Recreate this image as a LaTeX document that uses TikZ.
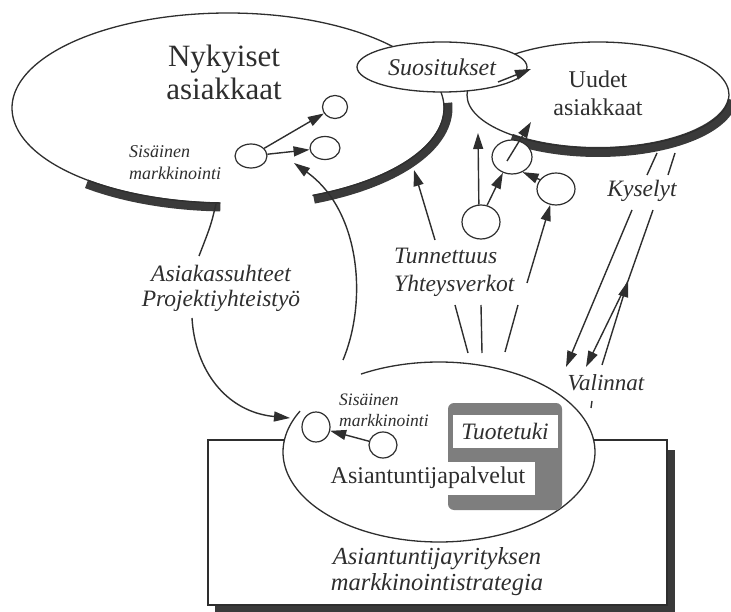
\documentclass[tikz,border=0pt]{standalone}
\usepackage{fontspec}
\setmainfont{Liberation Serif}
\usetikzlibrary{arrows.meta,shapes.geometric}
\definecolor{ink}{HTML}{2E2E2E}
\definecolor{shadowc}{HTML}{3A3A3A}
\definecolor{boxgray}{HTML}{7E7E7E}
\begin{document}
\begin{tikzpicture}[x=1pt,y=-1pt,
  ln/.style={draw=ink, line width=1.4pt},
  arr/.style={ln, -{Triangle[length=16pt,width=10pt]}},
  outl/.style={draw=ink, line width=1.3pt},
  shad/.style={draw=shadowc, line width=9pt},
  circ/.style={ellipse, draw=ink, line width=1.2pt, fill=white, inner sep=0pt},
  lbl/.style={text=ink, inner sep=0pt, align=center},
]
\useasboundingbox (0,0) rectangle (731,612);

% strategy box
\fill[shadowc] (215,450) rectangle (675,612);
\draw[outl, fill=white] (208,440) rectangle (667,605);

% lower ellipse (Asiantuntijapalvelut)
\fill[white] (439,452) ellipse [x radius=156pt, y radius=90pt];
\draw[outl] plot[domain=240:567, samples=160] ({439+156*cos(\x)},{452+90*sin(\x)});

% Tuotetuki frame
\fill[boxgray, rounded corners=6pt] (448,403) rectangle (562,510);
\fill[white] (453,415) rectangle (558,448);
\fill[white] (322,462) rectangle (535,495);
\node[lbl, font=\fontsize{23.5}{26}\selectfont\itshape] (tuote) at (505,431) {Tuotetuki};
\node[lbl, font=\fontsize{24}{26}\selectfont] (palv) at (428,478) {Asiantuntijapalvelut};
\node[lbl, font=\fontsize{24.5}{26}\selectfont\itshape] (strat) at (437,572) {Asiantuntijayrityksen\\markkinointistrategia};

% internal marketing in lower ellipse
\node[circ, minimum width=28pt, minimum height=30pt] (c4) at (316,427) {};
\node[circ, minimum width=28pt, minimum height=26pt] (c5) at (383,445) {};
\draw[arr] (c5) -- (c4);
\node[lbl, anchor=west, align=left, font=\fontsize{17.5}{21}\selectfont\itshape] (sis2) at (339,410) {Sisäinen\\markkinointi};

% current customers ellipse
\draw[shad] plot[domain=92:130, samples=30] ({228+220*cos(\x)},{108+99*sin(\x)});
\draw[shad] plot[domain=-3:67, samples=60] ({228+220*cos(\x)},{108+99*sin(\x)});
\draw[outl] plot[domain=92:427, samples=220] ({228+216*cos(\x)},{108+95*sin(\x)});
\node[lbl, font=\fontsize{31}{33}\selectfont] (nyk) at (224,72) {Nykyiset\\asiakkaat};
\node[circ, minimum width=25pt, minimum height=23pt] (c1) at (335,107) {};
\node[circ, minimum width=32pt, minimum height=24pt] (c2) at (251,156) {};
\node[circ, minimum width=30pt, minimum height=23pt] (c3) at (325,148) {};
\draw[arr] (c2) -- (c1);
\draw[arr] (c2) -- (c3);
\node[lbl, anchor=west, align=left, font=\fontsize{18}{22}\selectfont\itshape] (sis1) at (129,163) {Sisäinen\\markkinointi};

% new customers ellipse
\draw[shad, line width=10pt] plot[domain=5:130, samples=60] ({598+135*cos(\x)},{95+57*sin(\x)});
\draw[outl] (598,95) ellipse [x radius=131pt, y radius=53pt];
\node[lbl, font=\fontsize{24}{28}\selectfont] (uud) at (598,93) {Uudet\\asiakkaat};

% recommendations
\node[ellipse, draw=ink, line width=1.3pt, fill=white, inner sep=0pt, minimum width=170pt, minimum height=50pt, text=ink, font=\fontsize{24}{26}\selectfont\itshape] (suo) at (442,67) {Suositukset};
\coordinate (suoout) at (498,82);
\coordinate (uudin) at (531,69);
\draw[arr] (suoout) -- (uudin);

% customer relations loop
\coordinate (e1gap) at (216,204);
\coordinate (asiatop) at (199,256);
\coordinate (asiabot) at (192,318);
\coordinate (c4in) at (290,418);
\coordinate (e3top) at (343,360);
\coordinate (e1in) at (294,163);
\node[lbl, font=\fontsize{23.5}{25}\selectfont\itshape] (asia) at (221,288) {Asiakassuhteet\\Projektiyhteistyö};
\draw[ln] (e1gap) .. controls (211,225) .. (asiatop);
\draw[arr] (asiabot) .. controls (195,370) and (226,412) .. (c4in);
\draw[arr] (e3top) .. controls (368,300) and (360,210) .. (e1in);

% awareness / networks
\node[lbl, anchor=west, align=left, font=\fontsize{23.5}{28}\selectfont\itshape] (tunn) at (394,272) {Tunnettuus\\Yhteysverkot};
\node[circ, minimum width=38pt, minimum height=34pt] (c6) at (481,222) {};
\node[circ, minimum width=40pt, minimum height=34pt] (c7) at (512,157) {};
\node[circ, minimum width=38pt, minimum height=32pt] (c8) at (556,189) {};
\coordinate (t1) at (435,240);
\coordinate (t1e) at (414,170);
\coordinate (v1) at (478,133);
\coordinate (uudbot) at (531,122);
\coordinate (t3) at (527,283);
\draw[arr] (t1) -- (t1e);
\draw[arr] (c6.97) -- (v1);
\draw[arr] (c6.70) -- (c7.240);
\draw[arr] ([shift={(-5,4)}]c7.center) -- (uudbot);
\draw[arr] (c8.150) -- (c7.-55);
\draw[arr] (t3) -- (c8.250);
\coordinate (r1a) at (468,353); \coordinate (r1b) at (455,305);
\coordinate (r2a) at (482,353); \coordinate (r2b) at (481,305);
\coordinate (r3a) at (505,352); \coordinate (r3b) at (518,305);
\draw[ln] (r1a) -- (r1b);
\draw[ln] (r2a) -- (r2b);
\draw[ln] (r3a) -- (r3b);

% inquiries / choices
\node[lbl, font=\fontsize{23.5}{26}\selectfont\itshape] (kys) at (642,191) {Kyselyt};
\node[lbl, font=\fontsize{23}{26}\selectfont\itshape] (val) at (606,383) {Valinnat};
\coordinate (s1a) at (647,175); \coordinate (s1b) at (657,153);
\coordinate (s2a) at (668,175); \coordinate (s2b) at (675,153);
\draw[ln] (s1a) -- (s1b);
\draw[ln] (s2a) -- (s2b);
\coordinate (ka) at (632,210); \coordinate (va) at (566,367);
\coordinate (kb) at (653,210); \coordinate (vb) at (602,365);
\coordinate (mid) at (628,281); \coordinate (vc) at (586,367);
\draw[arr] (ka) -- (va);
\draw[arr] (vb) -- (mid);
\draw[ln] (mid) -- (kb);
\draw[arr] (mid) -- (vc);
\coordinate (tk1) at (592,401); \coordinate (tk2) at (591,408);
\draw[ln] (tk1) -- (tk2);
\end{tikzpicture}
\end{document}
